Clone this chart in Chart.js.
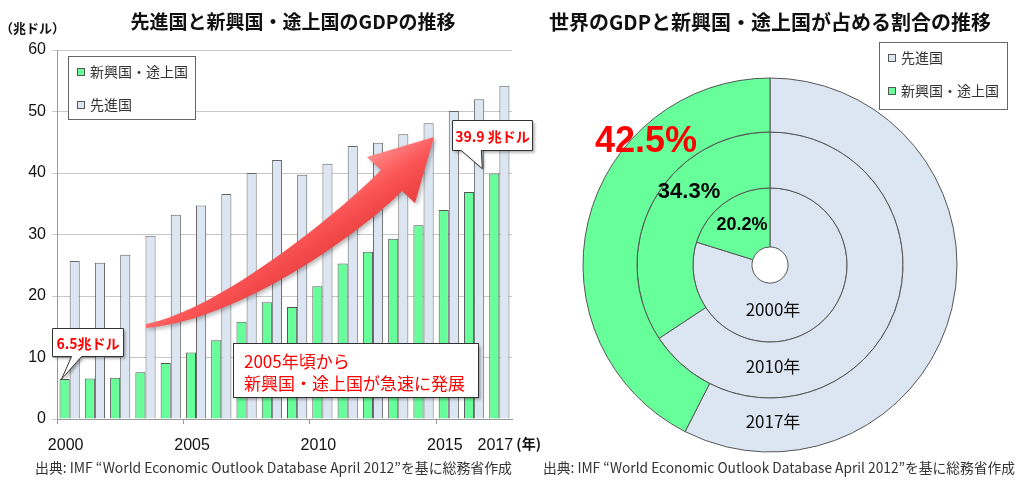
<!DOCTYPE html>
<html>
<head>
<meta charset="utf-8">
<script src="https://cdn.jsdelivr.net/npm/chart.js@4.4.1/dist/chart.umd.min.js"></script>
<style>
  body { margin: 0; background: #fff; width: 1022px; height: 480px; overflow: hidden; position: relative; }
  #left { position: absolute; left: 0; top: 0; }
  #right { position: absolute; left: 540px; top: 0; }
</style>
</head>
<body>
<canvas id="left" width="540" height="480"></canvas>
<canvas id="right" width="482" height="480"></canvas>
<script>
// GDP (trillion USD)
var years = ['2000', '2001', '2002', '2003', '2004', '2005', '2006', '2007', '2008',
             '2009', '2010', '2011', '2012', '2013', '2014', '2015', '2016', '2017'];
var emerging = [6.5, 6.6, 6.7, 7.6, 9.1, 10.8, 12.8, 15.8, 19.0,
                18.2, 21.6, 25.3, 27.2, 29.3, 31.5, 34.0, 36.9, 39.9];
var advanced = [25.7, 25.4, 26.7, 29.8, 33.2, 34.7, 36.6, 40.0, 42.1,
                39.7, 41.5, 44.4, 44.9, 46.3, 48.1, 50.1, 52.0, 54.2];
var shownYears = ['2000', '2005', '2010', '2015', '2017'];
var yTicks = [0, 10, 20, 30, 40, 50, 60];

// share of world GDP (%), outer ring first
var ringYears = ['2017年', '2010年', '2000年'];
var advancedShare = [57.5, 65.7, 79.8];
var emergingShare = [42.5, 34.3, 20.2];

var GREEN = '#66FF99';
var BLUE = '#DCE6F2';
var JP = '"Noto Sans CJK JP", sans-serif';
var NUM = '"Liberation Sans", Arial, sans-serif';
var FOOTER = '出典: IMF “World Economic Outlook Database April 2012”を基に総務省作成';

function legendBox(ctx, x, y, w, h, items) {
  ctx.save();
  ctx.fillStyle = '#fff';
  ctx.strokeStyle = '#666';
  ctx.lineWidth = 1;
  ctx.fillRect(x + 0.5, y + 0.5, w, h);
  ctx.strokeRect(x + 0.5, y + 0.5, w, h);
  ctx.font = '14px ' + JP;
  ctx.textBaseline = 'middle';
  items.forEach(function (it, i) {
    var cy = y + 16 + i * 33;
    ctx.fillStyle = it.color;
    ctx.fillRect(x + 9.5, cy - 3.5, 7, 7);
    ctx.strokeStyle = '#555';
    ctx.strokeRect(x + 9.5, cy - 3.5, 7, 7);
    ctx.fillStyle = '#333';
    ctx.fillText(it.text, x + 22, cy);
  });
  ctx.restore();
}

function callout(ctx, x, y, w, h, tail, text) {
  ctx.save();
  ctx.beginPath();
  ctx.moveTo(x, y);
  ctx.lineTo(x + w, y);
  ctx.lineTo(x + w, y + h);
  ctx.lineTo(tail[2], y + h);
  ctx.lineTo(tail[4], tail[5]);
  ctx.lineTo(tail[0], y + h);
  ctx.lineTo(x, y + h);
  ctx.closePath();
  ctx.shadowColor = 'rgba(0,0,0,0.35)';
  ctx.shadowBlur = 3;
  ctx.shadowOffsetX = 2;
  ctx.shadowOffsetY = 2;
  ctx.fillStyle = '#fff';
  ctx.fill();
  ctx.shadowColor = 'transparent';
  ctx.strokeStyle = '#333';
  ctx.lineWidth = 1;
  ctx.stroke();
  ctx.fillStyle = '#FF0000';
  ctx.font = 'bold 14px ' + JP;
  ctx.textAlign = 'center';
  ctx.textBaseline = 'middle';
  ctx.fillText(text, x + w / 2, y + h / 2 + 1);
  ctx.restore();
}

var leftDecor = {
  id: 'leftDecor',
  afterDatasetsDraw: function (chart) {
    var ctx = chart.ctx;
    // big curved arrow
    ctx.save();
    ctx.beginPath();
    ctx.moveTo(146, 324);
    ctx.bezierCurveTo(220, 310, 340, 212, 381, 170);
    ctx.lineTo(367, 157);
    ctx.lineTo(434, 137);
    ctx.lineTo(415, 203);
    ctx.lineTo(402, 191);
    ctx.bezierCurveTo(362, 232, 240, 320, 146, 328);
    ctx.closePath();
    ctx.shadowColor = 'rgba(0,0,0,0.3)';
    ctx.shadowBlur = 4;
    ctx.shadowOffsetX = 2;
    ctx.shadowOffsetY = 2;
    var g = ctx.createLinearGradient(300, 200, 340, 260);
    g.addColorStop(0, '#FF8C8C');
    g.addColorStop(0.45, '#FB5454');
    g.addColorStop(1, '#E53B3B');
    ctx.fillStyle = g;
    ctx.fill();
    ctx.restore();

    // callouts anchored to the first and last emerging bars
    var bars = chart.getDatasetMeta(0).data;
    var b0 = bars[0], bN = bars[bars.length - 1];
    var t0x = b0.x - 3, t0y = b0.y;
    callout(ctx, 52.5, 328.5, 71, 28, [t0x + 10, 0, t0x + 20, 0, t0x, t0y], '6.5兆ドル');
    var tNx = bN.x - 12, tNy = bN.y - 5;
    callout(ctx, 452.5, 120.5, 80, 30, [tNx - 21, 0, tNx - 1, 0, tNx, tNy], '39.9 兆ドル');

    // text box
    ctx.save();
    ctx.shadowColor = 'rgba(0,0,0,0.35)';
    ctx.shadowBlur = 3;
    ctx.shadowOffsetX = 2;
    ctx.shadowOffsetY = 2;
    ctx.fillStyle = '#fff';
    ctx.fillRect(233.5, 343.5, 245, 54);
    ctx.shadowColor = 'transparent';
    ctx.strokeStyle = '#333';
    ctx.strokeRect(233.5, 343.5, 245, 54);
    ctx.fillStyle = '#FF0000';
    ctx.font = '17px ' + JP;
    ctx.textBaseline = 'middle';
    ctx.fillText('2005年頃から', 244, 362);
    ctx.fillText('新興国・途上国が急速に発展', 244, 384);
    ctx.restore();

    legendBox(ctx, 68, 56, 127, 63, [
      { color: GREEN, text: '新興国・途上国' },
      { color: BLUE, text: '先進国' }
    ]);
  },
  afterDraw: function (chart) {
    var ctx = chart.ctx;
    ctx.save();
    ctx.fillStyle = '#111';
    ctx.textBaseline = 'middle';
    ctx.textAlign = 'center';
    ctx.font = 'bold 19px ' + JP;
    ctx.fillText('先進国と新興国・途上国のGDPの推移', 293, 22);
    ctx.textAlign = 'left';
    ctx.font = 'bold 13px ' + JP;
    ctx.fillText('（兆ドル）', 0, 28);
    var xs = chart.scales.x;
    ctx.font = 'bold 14px ' + JP;
    ctx.fillText('(年)', xs.getPixelForValue(years.length - 1) + 17, 444);
    ctx.fillStyle = '#333';
    ctx.font = '14px ' + JP;
    ctx.fillText(FOOTER, 35, 468, 477);
    ctx.restore();
  }
};

var leftChart = new Chart(document.getElementById('left'), {
  type: 'bar',
  data: {
    labels: years,
    datasets: [
      { label: '新興国・途上国', data: emerging, backgroundColor: GREEN, borderColor: '#555', borderWidth: 1 },
      { label: '先進国', data: advanced, backgroundColor: BLUE, borderColor: '#666', borderWidth: 1 }
    ]
  },
  options: {
    responsive: false,
    animation: false,
    layout: { padding: { left: 0, top: 50, right: 28, bottom: 0 } },
    datasets: { bar: { barPercentage: 1, categoryPercentage: 0.8 } },
    plugins: { legend: { display: false }, title: { display: false }, tooltip: { enabled: false } },
    scales: {
      x: {
        grid: {
          offset: true,
          drawOnChartArea: false,
          tickLength: 5,
          color: function (c) { return (c.index % 5 === 0 && c.index < 16) ? '#999' : 'rgba(0,0,0,0)'; }
        },
        border: { color: '#999' },
        ticks: {
          autoSkip: false,
          maxRotation: 0,
          padding: 12,
          labelOffset: -4,
          color: '#111',
          font: { family: NUM, size: 16 },
          callback: function (v, i) { return shownYears.indexOf(years[i]) >= 0 ? years[i] : ''; }
        },
        afterFit: function (s) { s.height = 61; }
      },
      y: {
        min: yTicks[0],
        max: yTicks[yTicks.length - 1],
        ticks: { stepSize: 10, padding: 6, color: '#111', font: { family: NUM, size: 16 } },
        grid: { color: '#c8c8c8', tickLength: 5 },
        border: { color: '#999' },
        afterFit: function (s) { s.width = 57; }
      }
    }
  },
  plugins: [leftDecor]
});

var rightDecor = {
  id: 'rightDecor',
  afterDraw: function (chart) {
    var ctx = chart.ctx;
    var outer = chart.getDatasetMeta(0).data[1];
    var mid = chart.getDatasetMeta(1).data[1];
    var inner = chart.getDatasetMeta(2).data[1];
    var cx = outer.x, cy = outer.y;
    ctx.save();
    ctx.textAlign = 'center';
    ctx.textBaseline = 'middle';
    ctx.fillStyle = '#FF0000';
    ctx.font = 'bold 36px ' + NUM;
    ctx.fillText(emergingShare[0].toFixed(1) + '%', cx - 124, cy - 123);
    ctx.fillStyle = '#000';
    ctx.font = 'bold 22px ' + NUM;
    ctx.fillText(emergingShare[1].toFixed(1) + '%', cx - 81, cy - 73);
    ctx.font = 'bold 18px ' + NUM;
    ctx.fillText(emergingShare[2].toFixed(1) + '%', cx - 28, cy - 40);

    ctx.font = '17px ' + JP;
    ctx.fillStyle = '#111';
    [outer, mid, inner].forEach(function (a, i) {
      ctx.fillText(ringYears[i], cx + 3, cy + (a.innerRadius + a.outerRadius) / 2 - 3);
    });

    ctx.font = 'bold 20px ' + JP;
    ctx.fillText('世界のGDPと新興国・途上国が占める割合の推移', cx, 22);

    ctx.textAlign = 'left';
    ctx.fillStyle = '#333';
    ctx.font = '14px ' + JP;
    ctx.fillText(FOOTER, 3, 468, 472);
    ctx.restore();

    legendBox(ctx, 339, 42, 128, 67, [
      { color: BLUE, text: '先進国' },
      { color: GREEN, text: '新興国・途上国' }
    ]);
  }
};

var rightChart = new Chart(document.getElementById('right'), {
  type: 'doughnut',
  data: {
    labels: ['先進国', '新興国・途上国'],
    datasets: ringYears.map(function (y, i) {
      return {
        label: y,
        data: [advancedShare[i], emergingShare[i]],
        backgroundColor: [BLUE, GREEN],
        borderColor: '#555',
        borderWidth: 1,
        weight: [54, 56, 59][i]
      };
    })
  },
  options: {
    responsive: false,
    animation: false,
    radius: 187,
    cutout: 18,
    layout: { padding: { left: 43, top: 78, right: 65, bottom: 28 } },
    plugins: { legend: { display: false }, title: { display: false }, tooltip: { enabled: false } }
  },
  plugins: [rightDecor]
});
</script>
</body>
</html>
